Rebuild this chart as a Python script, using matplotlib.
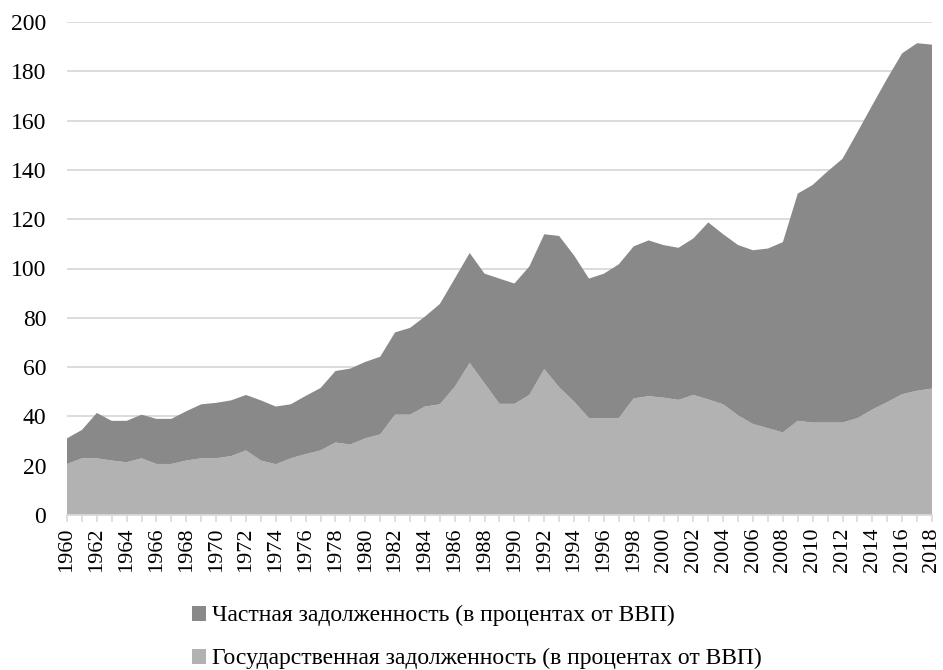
import matplotlib
matplotlib.use("Agg")
import matplotlib.pyplot as plt
from matplotlib.patches import Patch
import numpy as np

years = list(range(1960, 2019))
total_debt = [31.1, 34.5, 41.4, 38.2, 38.2, 40.7, 39.0, 39.0, 42.1, 44.9,
              45.5, 46.5, 48.7, 46.5, 44.0, 44.9, 48.3, 51.5, 58.4, 59.4,
              62.1, 64.2, 74.1, 75.9, 80.5, 85.6, 95.9, 106.3, 97.9, 95.9,
              93.9, 100.8, 113.9, 113.2, 105.3, 95.9, 97.9, 101.7, 109.0, 111.4,
              109.5, 108.4, 112.2, 118.7, 113.9, 109.5, 107.4, 108.1, 110.7, 130.4,
              133.9, 139.4, 144.5, 155.3, 166.3, 177.1, 187.3, 191.4, 190.8]
gov_debt = [20.7, 23.0, 23.0, 22.1, 21.4, 23.0, 20.7, 20.7, 22.1, 23.0,
            23.0, 23.9, 26.2, 22.1, 20.6, 23.0, 24.7, 26.2, 29.4, 28.6,
            31.1, 32.7, 40.7, 40.7, 44.0, 44.9, 52.0, 61.7, 53.4, 45.1,
            45.1, 48.7, 59.2, 51.8, 46.0, 39.3, 39.3, 39.3, 47.3, 48.2,
            47.6, 46.7, 48.7, 46.9, 44.9, 40.4, 36.9, 35.2, 33.5, 38.2,
            37.5, 37.5, 37.5, 39.3, 42.8, 45.8, 49.0, 50.4, 51.3]
private_debt = [t - g for t, g in zip(total_debt, gov_debt)]

label_private = "Частная задолженность (в процентах от ВВП)"
label_gov = "Государственная задолженность (в процентах от ВВП)"
y_ticks = list(range(0, 201, 20))

c_private = "#898989"
c_gov = "#b2b2b2"
c_grid = "#d9d9d9"

plt.rcParams['font.family'] = ['Liberation Serif', 'DejaVu Serif']

fig = plt.figure(figsize=(9.43, 6.70), dpi=100)
ax = fig.add_axes([67/943, 1 - 515/670, (932 - 67)/943, (515 - 22)/670])

ax.stackplot(years, gov_debt, private_debt, colors=[c_gov, c_private],
             linewidth=0, zorder=2)

ax.set_xlim(1960, 2018)
ax.set_ylim(0, 200)
ax.set_yticks(y_ticks)
ax.set_yticklabels([str(v) for v in y_ticks], fontsize=17)
ax.yaxis.grid(True, color=c_grid, linewidth=1.3, zorder=0)
ax.set_axisbelow(True)

ax.set_xticks(years)
ax.set_xticklabels([str(y) if (y % 2 == 0) else "" for y in years],
                   rotation=90, fontsize=16)

for s in ['top', 'right', 'left']:
    ax.spines[s].set_visible(False)
ax.spines['bottom'].set_color(c_grid)
ax.spines['bottom'].set_linewidth(1.3)
ax.spines['bottom'].set_zorder(3)
ax.tick_params(axis='y', length=0, pad=15)
ax.tick_params(axis='x', length=5, color=c_grid, width=1.2, pad=4)

handles = [Patch(facecolor=c_private, edgecolor='none', label=label_private),
           Patch(facecolor=c_gov, edgecolor='none', label=label_gov)]
fig.legend(handles=handles, loc='upper left', bbox_to_anchor=(171/943, 1 - 584/670),
           frameon=False, fontsize=17, handlelength=0.6, handleheight=0.6,
           handletextpad=0.25, labelspacing=0.92)

fig.savefig("out.png", dpi=100)
